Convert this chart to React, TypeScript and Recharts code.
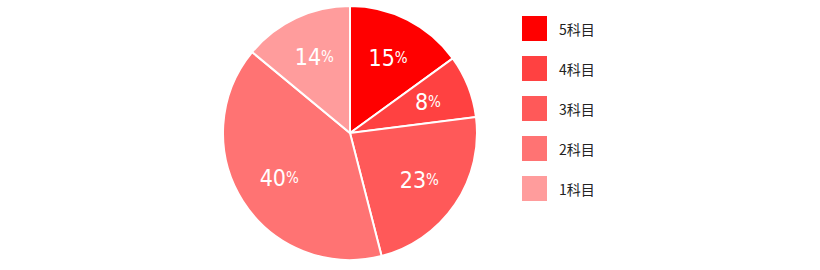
import React from 'react';
import { PieChart, Pie, Cell, Legend } from 'recharts';

const categories = ['5科目', '4科目', '3科目', '2科目', '1科目'];
const shares = [15, 8, 23, 40, 14];
const colors = ['#FF0000', '#FF4141', '#FF5959', '#FF7373', '#FF9C9C'];

const data = categories.map((name, i) => ({ name, value: shares[i] }));

const RAD = Math.PI / 180;

const renderLabel = (props: any) => {
  const { cx, cy, midAngle, outerRadius, value } = props;
  const r = outerRadius * 0.66;
  const x = cx + r * Math.cos(-midAngle * RAD);
  const y = cy + r * Math.sin(-midAngle * RAD);
  return (
    <text
      x={x}
      y={y}
      fill="#ffffff"
      textAnchor="middle"
      dominantBaseline="central"
      style={{ fontFamily: '"Liberation Sans Narrow", "DejaVu Sans Condensed", Roboto, sans-serif' }}
    >
      <tspan fontSize={23}>{value}</tspan>
      <tspan fontSize={15}>%</tspan>
    </text>
  );
};

const renderLegend = () => (
  <div style={{ display: 'flex', flexDirection: 'column' }}>
    {categories.map((c, i) => (
      <div key={c} style={{ display: 'flex', alignItems: 'center', height: 25, marginBottom: 15 }}>
        <div style={{ width: 25, height: 25, background: colors[i] }} />
        <span
          style={{
            marginLeft: 12,
            fontSize: 14,
            color: '#222',
            fontFamily: '"Noto Sans CJK JP", "Noto Sans", sans-serif',
          }}
        >
          {c}
        </span>
      </div>
    ))}
  </div>
);

export default function App() {
  return (
    <div style={{ position: 'absolute', left: 0, top: 0, width: 820, height: 270, background: '#fff' }}>
      <PieChart width={820} height={270} margin={{ top: 0, right: 0, bottom: 0, left: 0 }}>
        <Pie
          data={data}
          dataKey="value"
          nameKey="name"
          cx={350}
          cy={133}
          outerRadius={127}
          startAngle={90}
          endAngle={-270}
          stroke="#ffffff"
          strokeWidth={2}
          label={renderLabel}
          labelLine={false}
          isAnimationActive={false}
        >
          {data.map((d, i) => (
            <Cell key={d.name} fill={colors[i]} />
          ))}
        </Pie>
        <Legend
          content={renderLegend}
          layout="vertical"
          wrapperStyle={{ position: 'absolute', left: 522, top: 16, width: 120 }}
        />
      </PieChart>
    </div>
  );
}
